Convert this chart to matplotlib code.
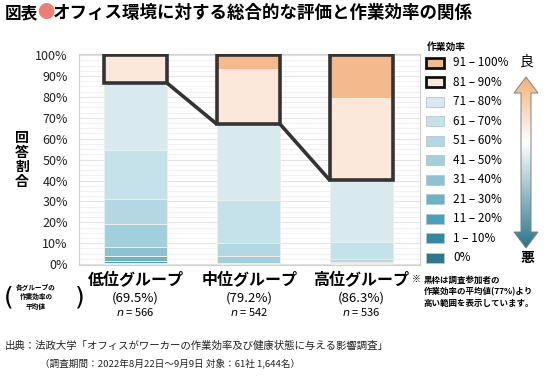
import numpy as np
import matplotlib
matplotlib.use("Agg")
import matplotlib.pyplot as plt
from matplotlib.patches import Rectangle, Polygon
from matplotlib.colors import LinearSegmentedColormap

plt.rcParams['font.family'] = ['Noto Sans CJK JP', 'DejaVu Sans']

categories = ['低位グループ', '中位グループ', '高位グループ']
group_means = ['(69.5%)', '(79.2%)', '(86.3%)']
group_n = [566, 542, 536]

# efficiency bins, bottom of the stack first
bins = ['0%', '1 – 10%', '11 – 20%', '21 – 30%', '31 – 40%', '41 – 50%',
        '51 – 60%', '61 – 70%', '71 – 80%', '81 – 90%', '91 – 100%']
low = [0.2, 0.4, 1.0, 2.2, 4.5, 10.7, 12.0, 23.5, 32.1, 13.0, 0.4]
mid = [0.1, 0.1, 0.1, 0.1, 0.2, 3.2, 6.4, 20.4, 36.4, 26.3, 6.7]
high = [0.0, 0.0, 0.1, 0.1, 0.3, 0.6, 1.3, 8.3, 29.5, 39.4, 20.4]
series = [low, mid, high]
n_boxed = 2  # top two bins are above the overall mean (77%)

colors = ['#2B7891', '#2F8AA5', '#46A2BC', '#6BB2C7', '#8BC3D3', '#A2CFDC',
          '#B4D8E3', '#C5E1EA', '#D8EAF0', '#FCE8DA', '#F4B98C']

W, H = 550, 377
fig = plt.figure(figsize=(W / 100, H / 100), dpi=100)

def fx(x):
    return x / W

def fy(y):
    return 1 - y / H

ax = fig.add_axes([fx(79), fy(265), fx(420) - fx(79), fy(54) - fy(265)])
x = np.arange(len(categories))
width = 0.56
for i, vals in enumerate(series):
    bottom = 0
    for j, v in enumerate(vals):
        if v > 0:
            ax.bar(x[i], v, width, bottom=bottom, color=colors[j],
                   edgecolor='#eeeee6', linewidth=0.7, zorder=3)
        bottom += v

# black frames above the mean and connecting lines
tops = []
for i, vals in enumerate(series):
    b = 100 - sum(vals[-n_boxed:])
    tops.append(b)
    ax.add_patch(Rectangle((x[i] - width / 2, b), width, 100 - b, fill=False,
                           edgecolor='#333333', linewidth=2.6, zorder=5))
for i in range(len(series) - 1):
    ax.plot([x[i] + width / 2, x[i + 1] - width / 2], [tops[i], tops[i + 1]],
            color='#333333', linewidth=2.6, zorder=5, solid_capstyle='butt')

ax.set_xlim(-0.5, 2.52)
ax.set_ylim(-0.4, 100.5)
ax.set_yticks(np.arange(0, 101, 10))
ax.set_yticklabels([f'{v}%' for v in range(0, 101, 10)], fontsize=9, color='#222222')
ax.set_yticks(np.arange(0, 101, 2.5), minor=True)
ax.tick_params(axis='y', which='both', length=0, pad=8)
ax.set_xticks([])
ax.grid(axis='y', which='minor', color='#f1f1f1', linewidth=0.8, zorder=0)
ax.grid(axis='y', which='major', color='#e4e4e4', linewidth=0.8, zorder=0)
for s in ax.spines.values():
    s.set_color('#d0d0d0')
    s.set_linewidth(0.8)

# overlay in pixel coordinates
top = fig.add_axes([0, 0, 1, 1], zorder=10)
top.set_xlim(0, W)
top.set_ylim(H, 0)
top.axis('off')

# title
top.text(5, 13, '図表', fontsize=12, fontweight='bold', va='center', ha='left')
top.text(37, 13, '●', fontsize=12.5, color='#EE7D72', va='center', ha='left')
top.text(53, 13, 'オフィス環境に対する総合的な評価と作業効率の関係', fontsize=12.6,
         fontweight='bold', va='center', ha='left')

top.text(22, 160, '回\n答\n割\n合', fontsize=10, fontweight='bold', va='center',
         ha='center', linespacing=1.05)

# category labels
centers = [135.5, 249.5, 361.5]
for i, c in enumerate(categories):
    top.text(centers[i], 279, c, fontsize=11.5, fontweight='bold', ha='center', va='center')
    top.text(centers[i], 298, group_means[i], fontsize=9.5, ha='center', va='center')
    top.text(centers[i], 312.5, f'$n$ = {group_n[i]}', fontsize=8, ha='center', va='center')

top.text(9, 297, '(', fontsize=18, family='DejaVu Sans', ha='center', va='center')
top.text(36, 297, '各グループの\n作業効率の\n平均値', fontsize=4.8, fontweight='bold',
         ha='center', va='center', linespacing=1.45)
top.text(80, 297, ')', fontsize=18, family='DejaVu Sans', ha='center', va='center')

top.text(416, 279, '※', fontsize=6.5, ha='center', va='center')
top.text(424, 292, '黒枠は調査参加者の\n作業効率の平均値(77%)より\n高い範囲を表示しています。',
         fontsize=6.1, fontweight='bold', ha='left', va='center', linespacing=1.35)

# footer
top.text(5, 346, '出典：法政大学「オフィスがワーカーの作業効率及び健康状態に与える影響調査」',
         fontsize=7.5, ha='left', va='center', color='#222222')
top.text(40, 364, '（調査期間：2022年8月22日～9月9日 対象：61社 1,644名）',
         fontsize=6.9, ha='left', va='center', color='#222222')

# legend
top.text(427, 47, '作業効率', fontsize=7, fontweight='bold', ha='left', va='center')
for k in range(len(bins)):
    j = len(bins) - 1 - k
    yc = 62.7 + 19.5 * k
    boxed = j >= len(bins) - n_boxed
    top.add_patch(Rectangle((426, yc - 5), 18, 10, facecolor=colors[j],
                            edgecolor='#111111' if boxed else '#b8c4c8',
                            linewidth=2.0 if boxed else 0.6))
    top.text(453, yc, bins[j], fontsize=8.5, ha='left', va='center')

top.text(527, 62, '良', fontsize=10, ha='center', va='center')
top.text(527, 258, '悪', fontsize=10, fontweight='bold', ha='center', va='center')

# gradient double arrow
arrow = [(526, 77), (538, 93), (531, 93), (531, 232), (538, 232), (526, 248),
         (514, 232), (521, 232), (521, 93), (514, 93)]
cmap = LinearSegmentedColormap.from_list('arr', [(0, '#F2B07C'), (0.38, '#FFFFFF'),
                                                 (1, '#27768E')])
grad = np.linspace(0, 1, 256).reshape(-1, 1)
im = top.imshow(grad, cmap=cmap, extent=(513, 539, 248, 77), origin='upper',
                aspect='auto', zorder=2)
poly = Polygon(arrow, closed=True, facecolor='none', edgecolor='#808080',
               linewidth=0.7, zorder=3)
top.add_patch(poly)
im.set_clip_path(poly)
top.set_xlim(0, W)
top.set_ylim(H, 0)

fig.savefig('out.png', dpi=100)
